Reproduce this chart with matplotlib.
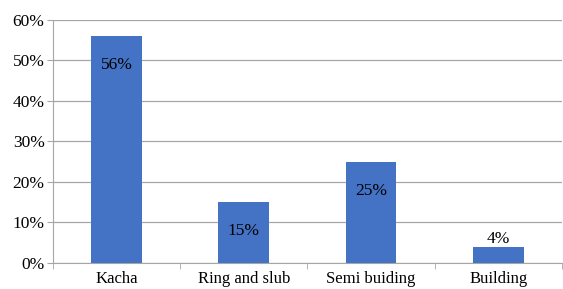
import numpy as np
import matplotlib
matplotlib.use('Agg')
import matplotlib.pyplot as plt
from matplotlib.ticker import PercentFormatter

# --- data ---
categories = ['Kacha', 'Ring and slub', 'Semi buiding', 'Building']
shares = [56, 15, 25, 4]
yticks = [0, 10, 20, 30, 40, 50, 60]

plt.rcParams['font.family'] = ['Liberation Serif', 'DejaVu Serif']

fig = plt.figure(figsize=(5.63, 2.89), dpi=100)
ax = fig.add_axes([0.094, 0.09, 0.904, 0.841])

x = np.arange(len(categories))
bars = ax.bar(x, shares, width=0.4, color='#4472C4', zorder=3)

ax.set_xlim(-0.5, len(categories) - 0.5)
ax.set_ylim(0, 60)
ax.set_yticks(yticks)
ax.yaxis.set_major_formatter(PercentFormatter(decimals=0))
ax.grid(axis='y', color='#A6A6A6', linewidth=0.9, zorder=0)

# category labels between boundary ticks
ax.set_xticks(x)
ax.set_xticklabels(categories, fontsize=12)
ax.tick_params(axis='x', length=0, pad=6)
ax.set_xticks(np.arange(len(categories) + 1) - 0.5, minor=True)
ax.tick_params(axis='x', which='minor', length=4, color='#A6A6A6')
ax.tick_params(axis='y', length=4, color='#A6A6A6', labelsize=12.5, pad=2)

for s in ['top', 'right']:
    ax.spines[s].set_visible(False)
for s in ['left', 'bottom']:
    ax.spines[s].set_color('#A6A6A6')

# data labels
for b, v in zip(bars, shares):
    cx = b.get_x() + b.get_width() / 2
    if v > 10:
        ax.annotate(f'{v}%', (cx, v), xytext=(0, -21), textcoords='offset points',
                    ha='center', va='center', fontsize=12.5, color='black', zorder=4)
    else:
        ax.annotate(f'{v}%', (cx, v), xytext=(0, 0), textcoords='offset points',
                    ha='center', va='bottom', fontsize=12.5, color='black', zorder=4)

fig.savefig('out.png', dpi=100)
